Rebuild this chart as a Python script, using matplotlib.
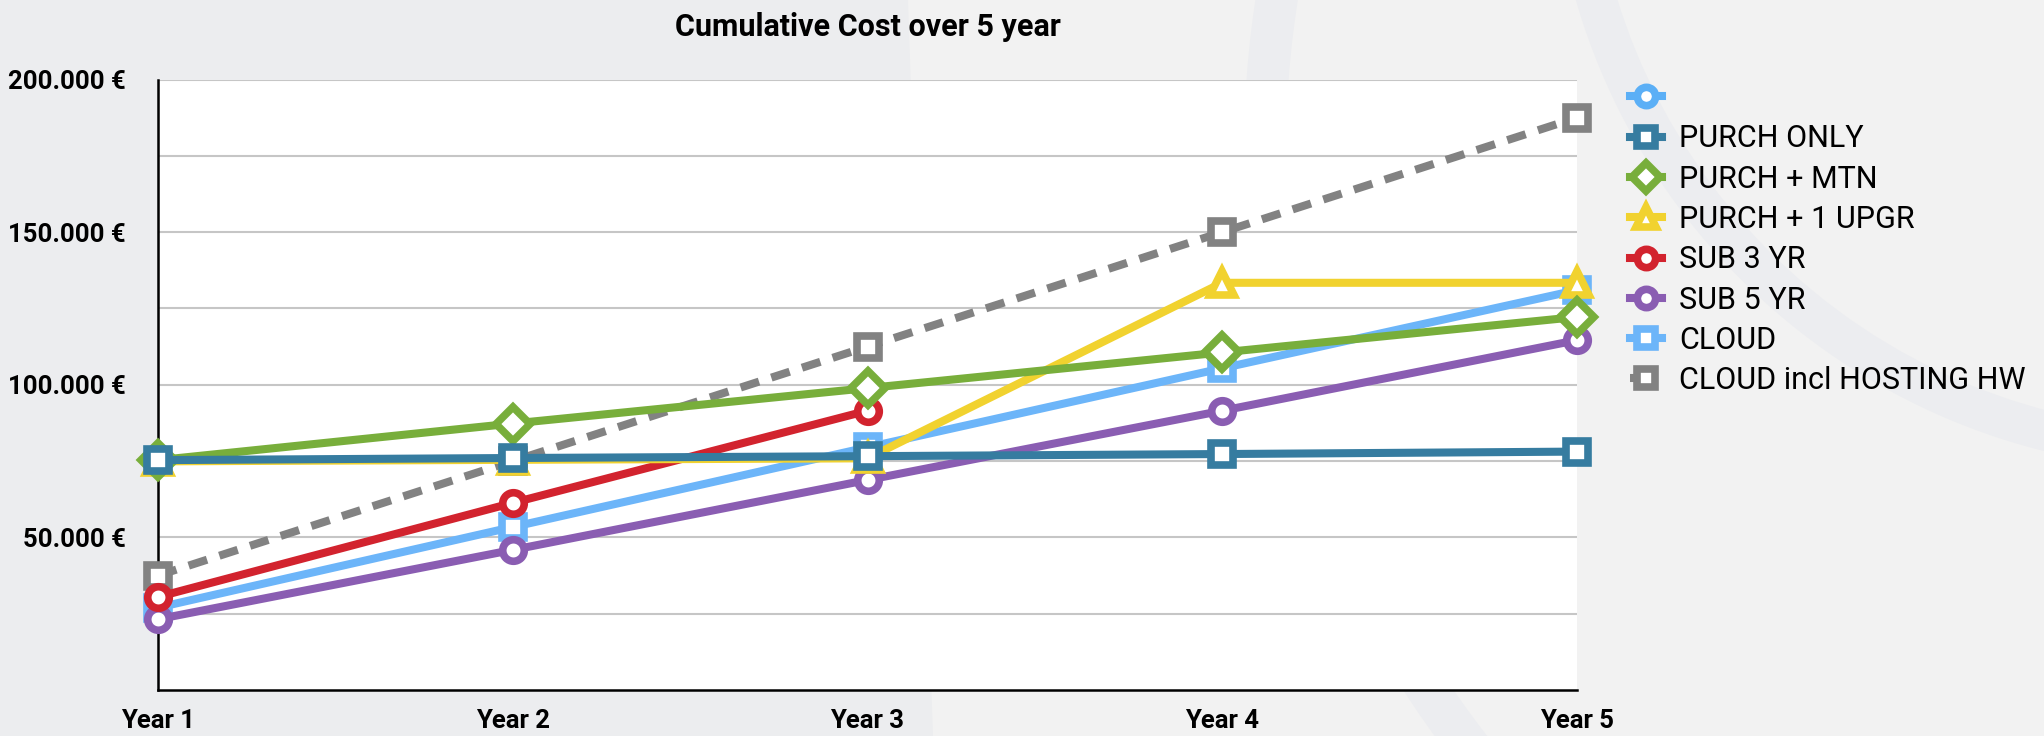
'''
Cumulative cost comparison over five years
'''

import numpy as np
import matplotlib
matplotlib.use("Agg")
import matplotlib.pyplot as plt
from matplotlib.patches import Polygon, Wedge

plt.rcParams["font.family"] = ["Roboto", "DejaVu Sans"]

years = ["Year 1", "Year 2", "Year 3", "Year 4", "Year 5"]

purch_only = [75300, 76000, 76600, 77300, 78100]
purch_mtn = [75300, 87300, 98900, 110600, 122200]
purch_upgr = [74900, 75400, 75900, 133400, 133400]
sub_3yr = [30500, 61300, 91500]
sub_5yr = [23200, 45900, 68800, 91500, 114600]
cloud = [27000, 53400, 79500, 105400, 131000]
cloud_hosting = [37500, 75000, 112500, 150000, 187500]

series_names = ["", "PURCH ONLY", "PURCH + MTN", "PURCH + 1 UPGR",
                "SUB 3 YR", "SUB 5 YR", "CLOUD", "CLOUD incl HOSTING HW"]
series_values = [[], purch_only, purch_mtn, purch_upgr,
                 sub_3yr, sub_5yr, cloud, cloud_hosting]
series_colors = ["#5BAFF6", "#367CA0", "#78AE3B", "#F1D22F",
                 "#D2232E", "#8A5DB2", "#6CB5F9", "#828282"]
series_markers = ["o", "s", "D", "^", "o", "o", "s", "s"]

y_ticks = [50000, 100000, 150000, 200000]
y_grid = [25000, 50000, 75000, 100000, 125000, 150000, 175000, 200000]

W, H = 2044, 736
fig = plt.figure(figsize=(W / 100, H / 100), dpi=100)
fig.patch.set_facecolor("#F2F2F2")

# background decoration: darker left block and two faint arcs
fig.add_artist(Polygon([(0, 0), (933 / W, 0), (908 / W, 1), (0, 1)],
                       closed=True, transform=fig.transFigure,
                       facecolor="#ECEDEF", edgecolor="none", zorder=-5))
fig.add_artist(Wedge((22.02, (H + 181.5) / 100), 6.52, 0, 360, width=0.40,
                     transform=fig.dpi_scale_trans,
                     facecolor="#ECEDF0", edgecolor="none", zorder=-5))
fig.add_artist(Wedge((22.40, (H - 150) / 100), 9.96, 0, 360, width=0.42,
                     transform=fig.dpi_scale_trans,
                     facecolor="#ECEDF0", edgecolor="none", zorder=-5))

ax = fig.add_axes([158 / W, 1 - 690 / H, (1577 - 158) / W, (690 - 79.5) / H])
ax.set_facecolor("white")

x = np.arange(len(years))
handles = []
for i, (name, vals, col, mk) in enumerate(zip(series_names, series_values,
                                             series_colors, series_markers)):
    ls = (0, (2.4, 1.6)) if name == "CLOUD incl HOSTING HW" else "-"
    ms = {"^": 17, "D": 17}.get(mk, 15.5)
    line, = ax.plot(x[:len(vals)], vals, color=col, lw=5.8, linestyle=ls,
                    marker=mk, markersize=ms, markeredgewidth=5.5,
                    markerfacecolor="white", markeredgecolor=col,
                    clip_on=False, zorder=20 - i, label=name if name else " ")
    handles.append(line)

ax.set_xlim(0, 4)
ax.set_ylim(0, 200000)
ax.set_xticks(x)
ax.set_xticklabels(years, fontsize=18.5, fontweight="bold")
ax.set_yticks(y_ticks)
ax.set_yticklabels([f"{v:,.0f} €".replace(",", ".") for v in y_ticks],
                   fontsize=18.5, fontweight="bold")
ax.set_yticks(y_grid, minor=True)
ax.tick_params(axis="both", which="both", length=0)
ax.tick_params(axis="y", pad=23)
ax.tick_params(axis="x", pad=14)
ax.grid(True, axis="y", which="both", color="#C6C6C6", lw=1.5)
ax.set_axisbelow(True)

for side in ["top", "right"]:
    ax.spines[side].set_visible(False)
for side in ["left", "bottom"]:
    ax.spines[side].set_color("black")
    ax.spines[side].set_linewidth(1.8)
    ax.spines[side].set_zorder(2)

fig.text(867.5 / W, 1 - 27 / H, "Cumulative Cost over 5 year",
         fontsize=22, fontweight="bold", ha="center", va="center")

leg = fig.legend(handles=handles, loc="upper left",
                 bbox_to_anchor=(1630 / W, 1 - 84 / H), frameon=False,
                 fontsize=22, markerscale=0.85, handlelength=1.05,
                 handletextpad=0.55, labelspacing=0.37, borderpad=0,
                 borderaxespad=0)

fig.savefig("out.png", dpi=100, facecolor=fig.get_facecolor())
plt.close(fig)
